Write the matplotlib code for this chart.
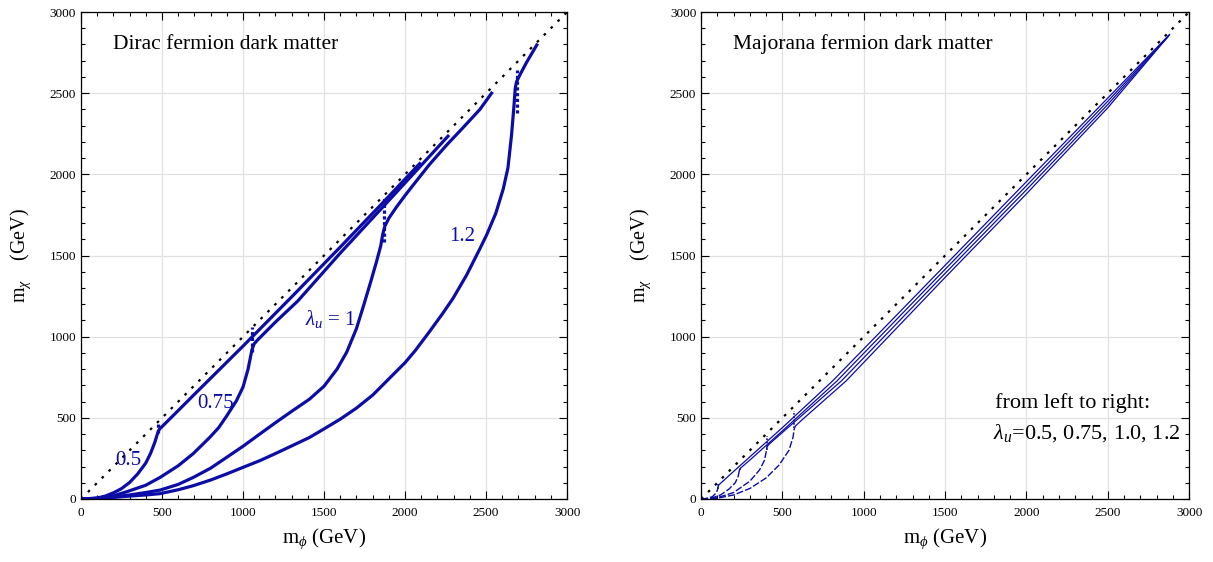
import numpy as np
import matplotlib
matplotlib.use('Agg')
import matplotlib.pyplot as plt
from matplotlib.ticker import MultipleLocator

plt.rcParams['font.family'] = ['Liberation Serif', 'DejaVu Serif']
plt.rcParams['mathtext.fontset'] = 'custom'
plt.rcParams['mathtext.rm'] = 'Liberation Serif'
plt.rcParams['mathtext.it'] = 'Liberation Serif:italic'

# Dirac fermion dark matter: (m_phi, m_chi) in GeV, one curve per lambda_u
dirac05_x = [0, 50, 100, 150, 200, 250, 300, 350, 400, 430, 455, 468, 476, 484, 500, 600, 700, 1000, 1300, 1600, 1850, 2090]
dirac05_y = [0, 2, 6, 18, 38, 64, 102, 155, 222, 283, 348, 390, 415, 430, 446, 545, 645, 942, 1245, 1552, 1812, 2066]
dirac075_x = [0, 100, 200, 283, 400, 488, 600, 693, 795, 850, 898, 959, 1000, 1031, 1045, 1055, 1068, 1090, 1200, 1338, 1600, 1850, 2090, 2265]
dirac075_y = [0, 5, 20, 45, 85, 133, 205, 280, 380, 440, 510, 605, 690, 800, 870, 920, 955, 980, 1090, 1220, 1515, 1785, 2045, 2235]
dirac1_x = [0, 100, 200, 300, 400, 488, 600, 693, 800, 898, 1000, 1103, 1200, 1300, 1410, 1500, 1580, 1640, 1700, 1742, 1790, 1824, 1850, 1862, 1875, 1900, 1948, 2000, 2050, 2150, 2256, 2360, 2462, 2534]
dirac1_y = [0, 3, 12, 25, 40, 55, 90, 133, 190, 256, 325, 400, 470, 540, 615, 695, 800, 905, 1050, 1185, 1345, 1463, 1560, 1630, 1680, 1730, 1800, 1870, 1934, 2060, 2180, 2290, 2400, 2500]
dirac12_x = [0, 100, 200, 300, 400, 488, 600, 693, 800, 898, 1000, 1103, 1200, 1300, 1410, 1500, 1600, 1700, 1800, 1900, 2000, 2061, 2150, 2230, 2296, 2380, 2462, 2504, 2560, 2606, 2635, 2657, 2672, 2680, 2688, 2710, 2750, 2813]
dirac12_y = [0, 3, 10, 18, 25, 33, 57, 82, 117, 154, 195, 236, 280, 327, 379, 432, 492, 560, 640, 740, 840, 912, 1030, 1140, 1236, 1380, 1542, 1628, 1760, 1910, 2040, 2240, 2420, 2530, 2570, 2615, 2690, 2797]
# vertical dotted jumps: m_phi, lower m_chi, upper m_chi
dirac_jump_x = [474, 1058, 1870, 2688]
dirac_jump_lo = [405, 905, 1585, 2380]
dirac_jump_hi = [476, 1058, 1860, 2640]

# Majorana fermion dark matter: lower (dashed) and upper (solid) branches
major05_low_x = [0, 40, 70, 90, 100, 104]
major05_low_y = [0, 4, 15, 35, 55, 75]
major05_up_x = [104, 110, 200, 500, 808, 1500, 2000, 2500, 2880]
major05_up_y = [75, 88, 170, 440, 727, 1440, 1955, 2470, 2862]
major075_low_x = [0, 60, 120, 170, 210, 228, 235]
major075_low_y = [0, 5, 25, 60, 100, 140, 175]
major075_up_x = [235, 242, 300, 500, 835, 1500, 2000, 2500, 2878]
major075_up_y = [175, 190, 240, 420, 727, 1415, 1930, 2450, 2858]
major1_low_x = [0, 100, 200, 300, 360, 390, 400, 405]
major1_low_y = [0, 8, 40, 110, 180, 240, 290, 320]
major1_up_x = [405, 415, 500, 862, 1500, 2000, 2500, 2875]
major1_up_y = [320, 335, 410, 727, 1390, 1905, 2430, 2854]
major12_low_x = [0, 100, 200, 300, 400, 480, 540, 565, 572]
major12_low_y = [0, 5, 25, 65, 130, 210, 300, 380, 430]
major12_up_x = [572, 580, 623, 891, 1500, 2000, 2500, 2870]
major12_up_y = [430, 450, 490, 727, 1365, 1880, 2410, 2848]
major_jump_x = [102, 237, 402, 574]
major_jump_lo = [60, 180, 300, 440]
major_jump_hi = [100, 200, 390, 540]

blue = '#0c0ca6'

fig = plt.figure(figsize=(12.13, 5.62), dpi=100)
axL = fig.add_axes([0.0668, 0.1121, 0.4007, 0.8665])
axR = fig.add_axes([0.578, 0.1121, 0.4023, 0.8665])

for ax in (axL, axR):
  ax.set_xlim(0, 3000)
  ax.set_ylim(0, 3000)
  ax.xaxis.set_major_locator(MultipleLocator(500))
  ax.yaxis.set_major_locator(MultipleLocator(500))
  ax.xaxis.set_minor_locator(MultipleLocator(100))
  ax.yaxis.set_minor_locator(MultipleLocator(100))
  ax.tick_params(which='both', direction='in', top=True, right=True, labelsize=9.5, width=0.8)
  ax.tick_params(which='major', length=6)
  ax.tick_params(which='minor', length=3)
  ax.tick_params(axis='x', which='major', pad=6)
  ax.grid(True, which='major', color='#e2e2e2', lw=0.9)
  ax.set_axisbelow(True)
  for s in ax.spines.values():
    s.set_linewidth(0.9)
  ax.plot([0, 3000], [0, 3000], color='black', lw=1.6, ls=(0, (1.2, 3.2)))
  ax.set_xlabel(r'$\mathrm{m}_{\phi}$ (GeV)', fontsize=15, labelpad=5)
  ax.set_ylabel(r'$\mathrm{m}_{\chi}$    (GeV)', fontsize=14.5, labelpad=12)

for xs, ys in [(dirac05_x, dirac05_y), (dirac075_x, dirac075_y), (dirac1_x, dirac1_y), (dirac12_x, dirac12_y)]:
  axL.plot(xs, ys, color=blue, lw=2.3, solid_joinstyle='round')
for x, lo, hi in zip(dirac_jump_x, dirac_jump_lo, dirac_jump_hi):
  axL.plot([x, x], [lo, hi], color=blue, lw=2.3, ls=(0, (1.0, 0.8)))

axL.text(0.066, 0.925, 'Dirac fermion dark matter', transform=axL.transAxes, fontsize=15.5, va='baseline')
axL.text(290, 240, '0.5', color=blue, fontsize=15, ha='center', va='center')
axL.text(833, 588, '0.75', color=blue, fontsize=15, ha='center', va='center')
axL.text(1536, 1108, r'$\lambda_u$ = 1', color=blue, fontsize=15, ha='center', va='center')
axL.text(2351, 1616, '1.2', color=blue, fontsize=15, ha='center', va='center')

for xs, ys in [(major05_low_x, major05_low_y), (major075_low_x, major075_low_y), (major1_low_x, major1_low_y), (major12_low_x, major12_low_y)]:
  axR.plot(xs, ys, color=blue, lw=1.0, ls=(0, (5, 1.5)))
for xs, ys in [(major05_up_x, major05_up_y), (major075_up_x, major075_up_y), (major1_up_x, major1_up_y), (major12_up_x, major12_up_y)]:
  axR.plot(xs, ys, color=blue, lw=0.9)
for x, lo, hi in zip(major_jump_x, major_jump_lo, major_jump_hi):
  axR.plot([x, x], [lo, hi], color=blue, lw=1.2, ls=(0, (1.0, 1.0)))

axR.text(0.066, 0.925, 'Majorana fermion dark matter', transform=axR.transAxes, fontsize=15.5, va='baseline')
axR.text(0.762, 0.186, 'from left to right:', transform=axR.transAxes, fontsize=16, ha='center', va='baseline')
axR.text(0.79, 0.124, r'$\lambda_u$=0.5, 0.75, 1.0, 1.2', transform=axR.transAxes, fontsize=16, ha='center', va='baseline')

plt.savefig('out.png', dpi=100)
